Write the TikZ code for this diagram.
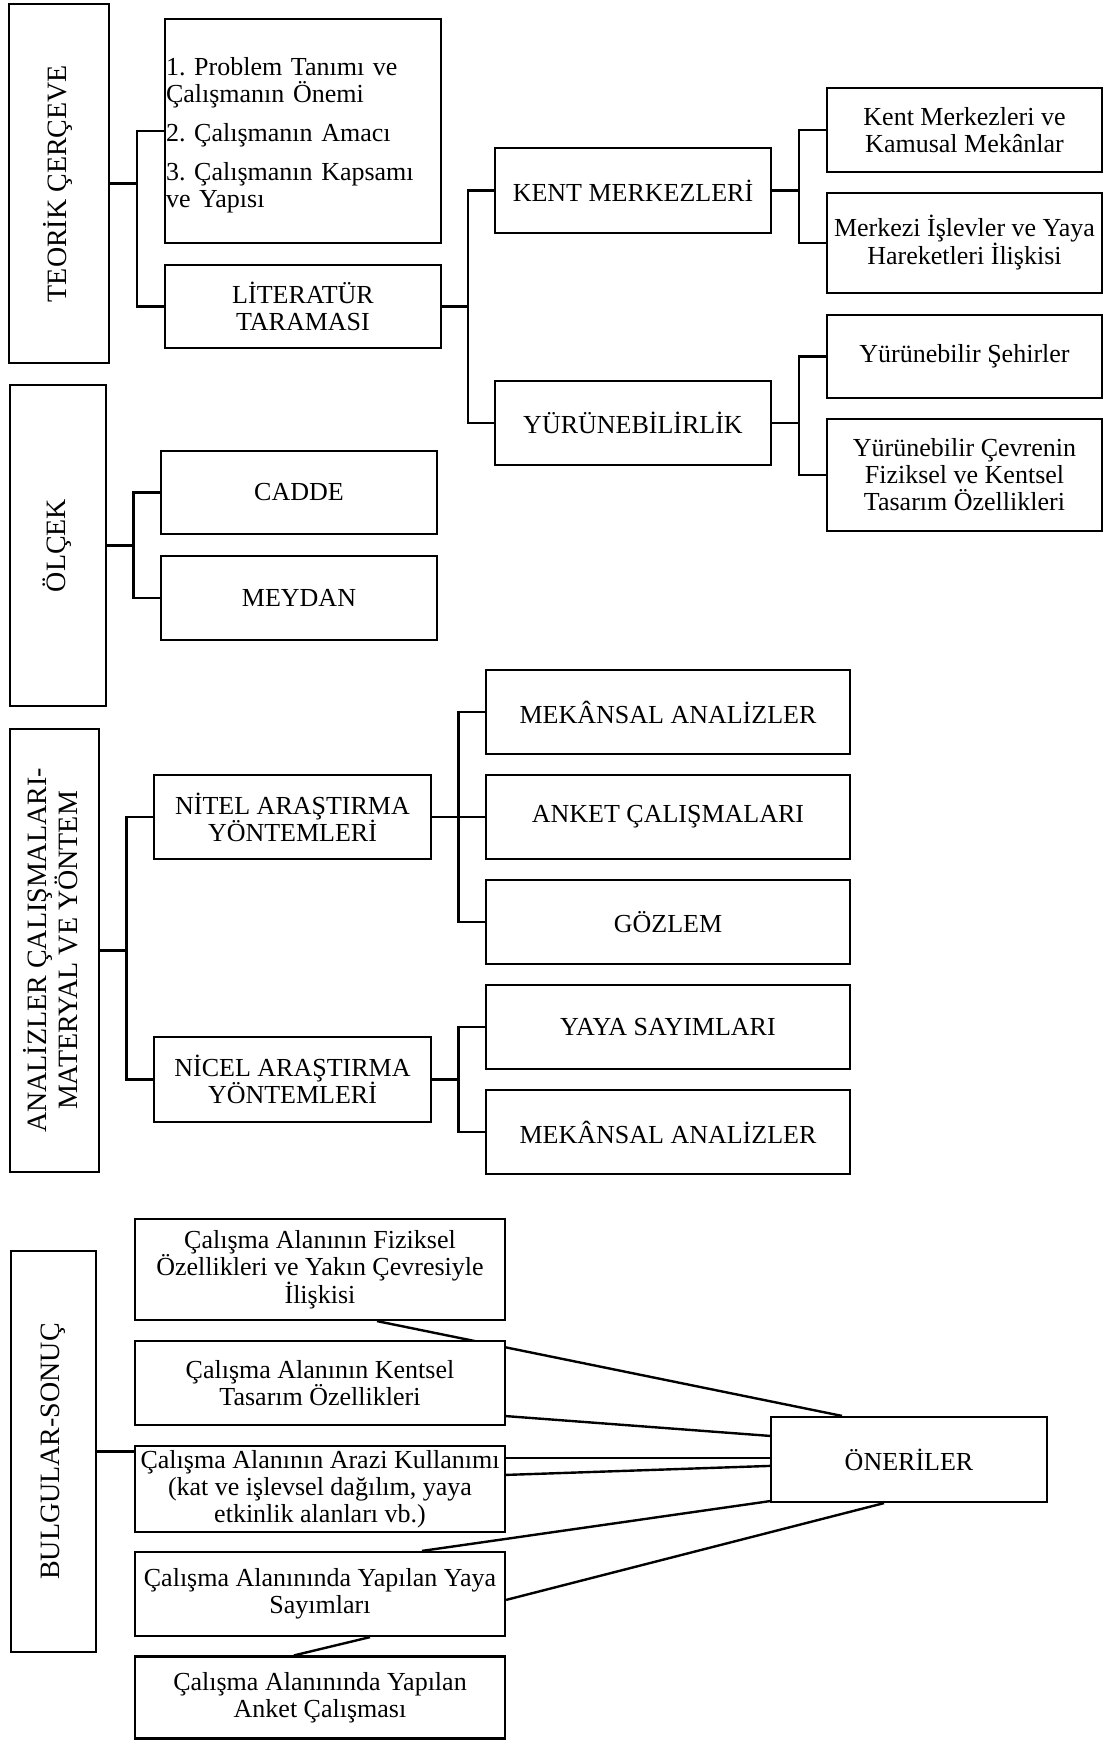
\documentclass[tikz,border=0pt]{standalone}
\usepackage{fontspec}
\setmainfont{Liberation Serif}
\usepackage{graphicx}
\usetikzlibrary{calc,backgrounds}
\frenchspacing
\newcommand{\elbowlink}[2]{\draw[link] (#1.east) -| ($(#1.east)!.5!(#2.west)$) |- (#2.west);}
\newcommand{\rotlabel}[1]{\rotatebox{90}{\fontsize{28}{28}\selectfont\begin{tabular}{@{}c@{}}#1\end{tabular}}}
\begin{document}
\begin{tikzpicture}[x=1pt,y=-1pt,
  box/.style={draw, line width=2.2pt, fill=white, inner sep=0pt, align=center,
              font=\fontsize{26}{27}\selectfont\frenchspacing},
  link/.style={line width=2.4pt},
]
\useasboundingbox (0,0) rectangle (1112,1740);

% ---------- Section 1: TEORIK CERCEVE ----------
\node[box, minimum width=100pt, minimum height=359pt] (teorik) at (59,183.5) {\rotlabel{TEORİK ÇERÇEVE}};
\node[box, minimum width=276pt, minimum height=224pt, align=left, text width=274pt] (items) at (303,131)
  {\rule{0pt}{26pt}1. Problem Tanımı ve\\Çalışmanın Önemi\\[12pt]2. Çalışmanın Amacı\\[12pt]3. Çalışmanın Kapsamı\\ve Yapısı};
\node[box, minimum width=276pt, minimum height=83pt] (lit) at (303,306.5) {LİTERATÜR\\TARAMASI};
\node[box, minimum width=276pt, minimum height=85pt] (kent) at (633,190.5) {KENT MERKEZLERİ};
\node[box, minimum width=276pt, minimum height=84pt] (yur) at (633,423) {YÜRÜNEBİLİRLİK};
\node[box, minimum width=275pt, minimum height=84pt] (rA) at (964.5,130) {Kent Merkezleri ve\\Kamusal Mekânlar};
\node[box, minimum width=275pt, minimum height=100pt] (rB) at (964.5,243) {Merkezi İşlevler ve Yaya\\Hareketleri İlişkisi};
\node[box, minimum width=275pt, minimum height=83pt] (rC) at (964.5,356.5) {Yürünebilir Şehirler};
\node[box, minimum width=275pt, minimum height=112pt] (rD) at (964.5,475) {Yürünebilir Çevrenin\\Fiziksel ve Kentsel\\Tasarım Özellikleri};

% ---------- Section 2: OLCEK ----------
\node[box, minimum width=96pt, minimum height=321pt] (olcek) at (58,545.5) {\rotlabel{ÖLÇEK}};
\node[box, minimum width=276pt, minimum height=83pt] (cadde) at (299,492.5) {CADDE};
\node[box, minimum width=276pt, minimum height=84pt] (meydan) at (299,598) {MEYDAN};

% ---------- Section 3: ANALIZLER ----------
\node[box, minimum width=89pt, minimum height=443pt] (anal) at (54.5,950.5) {\rotlabel{ANALİZLER ÇALIŞMALARI-\\MATERYAL VE YÖNTEM}};
\node[box, minimum width=277pt, minimum height=84pt] (nitel) at (292.5,817) {NİTEL ARAŞTIRMA\\YÖNTEMLERİ};
\node[box, minimum width=277pt, minimum height=85pt] (nicel) at (292.5,1079.5) {NİCEL ARAŞTIRMA\\YÖNTEMLERİ};
\node[box, minimum width=364pt, minimum height=84pt] (mekA) at (668,712) {MEKÂNSAL ANALİZLER};
\node[box, minimum width=364pt, minimum height=84pt] (anket) at (668,817) {ANKET ÇALIŞMALARI};
\node[box, minimum width=364pt, minimum height=84pt] (gozlem) at (668,922) {GÖZLEM};
\node[box, minimum width=364pt, minimum height=84pt] (yaya) at (668,1027) {YAYA SAYIMLARI};
\node[box, minimum width=364pt, minimum height=84pt] (mekB) at (668,1132) {MEKÂNSAL ANALİZLER};

% ---------- Section 4: BULGULAR-SONUC ----------
\node[box, minimum width=85pt, minimum height=401pt] (bulg) at (53.5,1451.5) {\rotlabel{BULGULAR-SONUÇ}};
\node[box, minimum width=370pt, minimum height=101pt] (fA) at (320,1269.5) {Çalışma Alanının Fiziksel\\Özellikleri ve Yakın Çevresiyle\\İlişkisi};
\node[box, minimum width=370pt, minimum height=84pt] (fB) at (320,1383) {Çalışma Alanının Kentsel\\Tasarım Özellikleri};
\node[box, minimum width=370pt, minimum height=86pt] (fC) at (320,1489) {Çalışma Alanının Arazi Kullanımı\\(kat ve işlevsel dağılım, yaya\\etkinlik alanları vb.)};
\node[box, minimum width=370pt, minimum height=84pt] (fD) at (320,1594) {Çalışma Alanınında Yapılan Yaya\\Sayımları};
\node[box, minimum width=370pt, minimum height=82pt] (fE) at (320,1697.5) {Çalışma Alanınında Yapılan\\Anket Çalışması};
\node[box, minimum width=276pt, minimum height=85pt] (oner) at (909,1459.5) {ÖNERİLER};

% ---------- connectors ----------
\begin{scope}[on background layer]
\fill[white] (0,0) rectangle (1112,1740);
\elbowlink{teorik}{items}
\elbowlink{teorik}{lit}
\elbowlink{lit}{kent}
\elbowlink{lit}{yur}
\elbowlink{kent}{rA}
\elbowlink{kent}{rB}
\elbowlink{yur}{rC}
\elbowlink{yur}{rD}
\elbowlink{olcek}{cadde}
\elbowlink{olcek}{meydan}
\elbowlink{anal}{nitel}
\elbowlink{anal}{nicel}
\elbowlink{nitel}{mekA}
\elbowlink{nitel}{anket}
\elbowlink{nitel}{gozlem}
\elbowlink{nicel}{yaya}
\elbowlink{nicel}{mekB}
\draw[link] (bulg.east) -- (bulg.east -| fC.west);
\draw[link] ($(fA.south)+(57,0)$) -- ($(oner.north)+(-67,0)$);
\draw[link] ($(fB.south east)+(0,-10)$) -- ($(oner.north west)+(0,20)$);
\draw[link] ($(fC.north east)+(0,13)$) -- ($(oner.north west)+(0,42)$);
\draw[link] ($(fC.north east)+(0,30)$) -- ($(oner.north west)+(0,50)$);
\draw[link] ($(oner.south west)+(0,-2)$) -- ($(fD.north)+(102,0)$);
\draw[link] ($(oner.south)+(-25,0)$) -- ($(fD.north east)+(0,49)$);
\draw[link] ($(fD.south)+(50,0)$) -- ($(fE.north)+(-26,0)$);
\end{scope}
\end{tikzpicture}
\end{document}
